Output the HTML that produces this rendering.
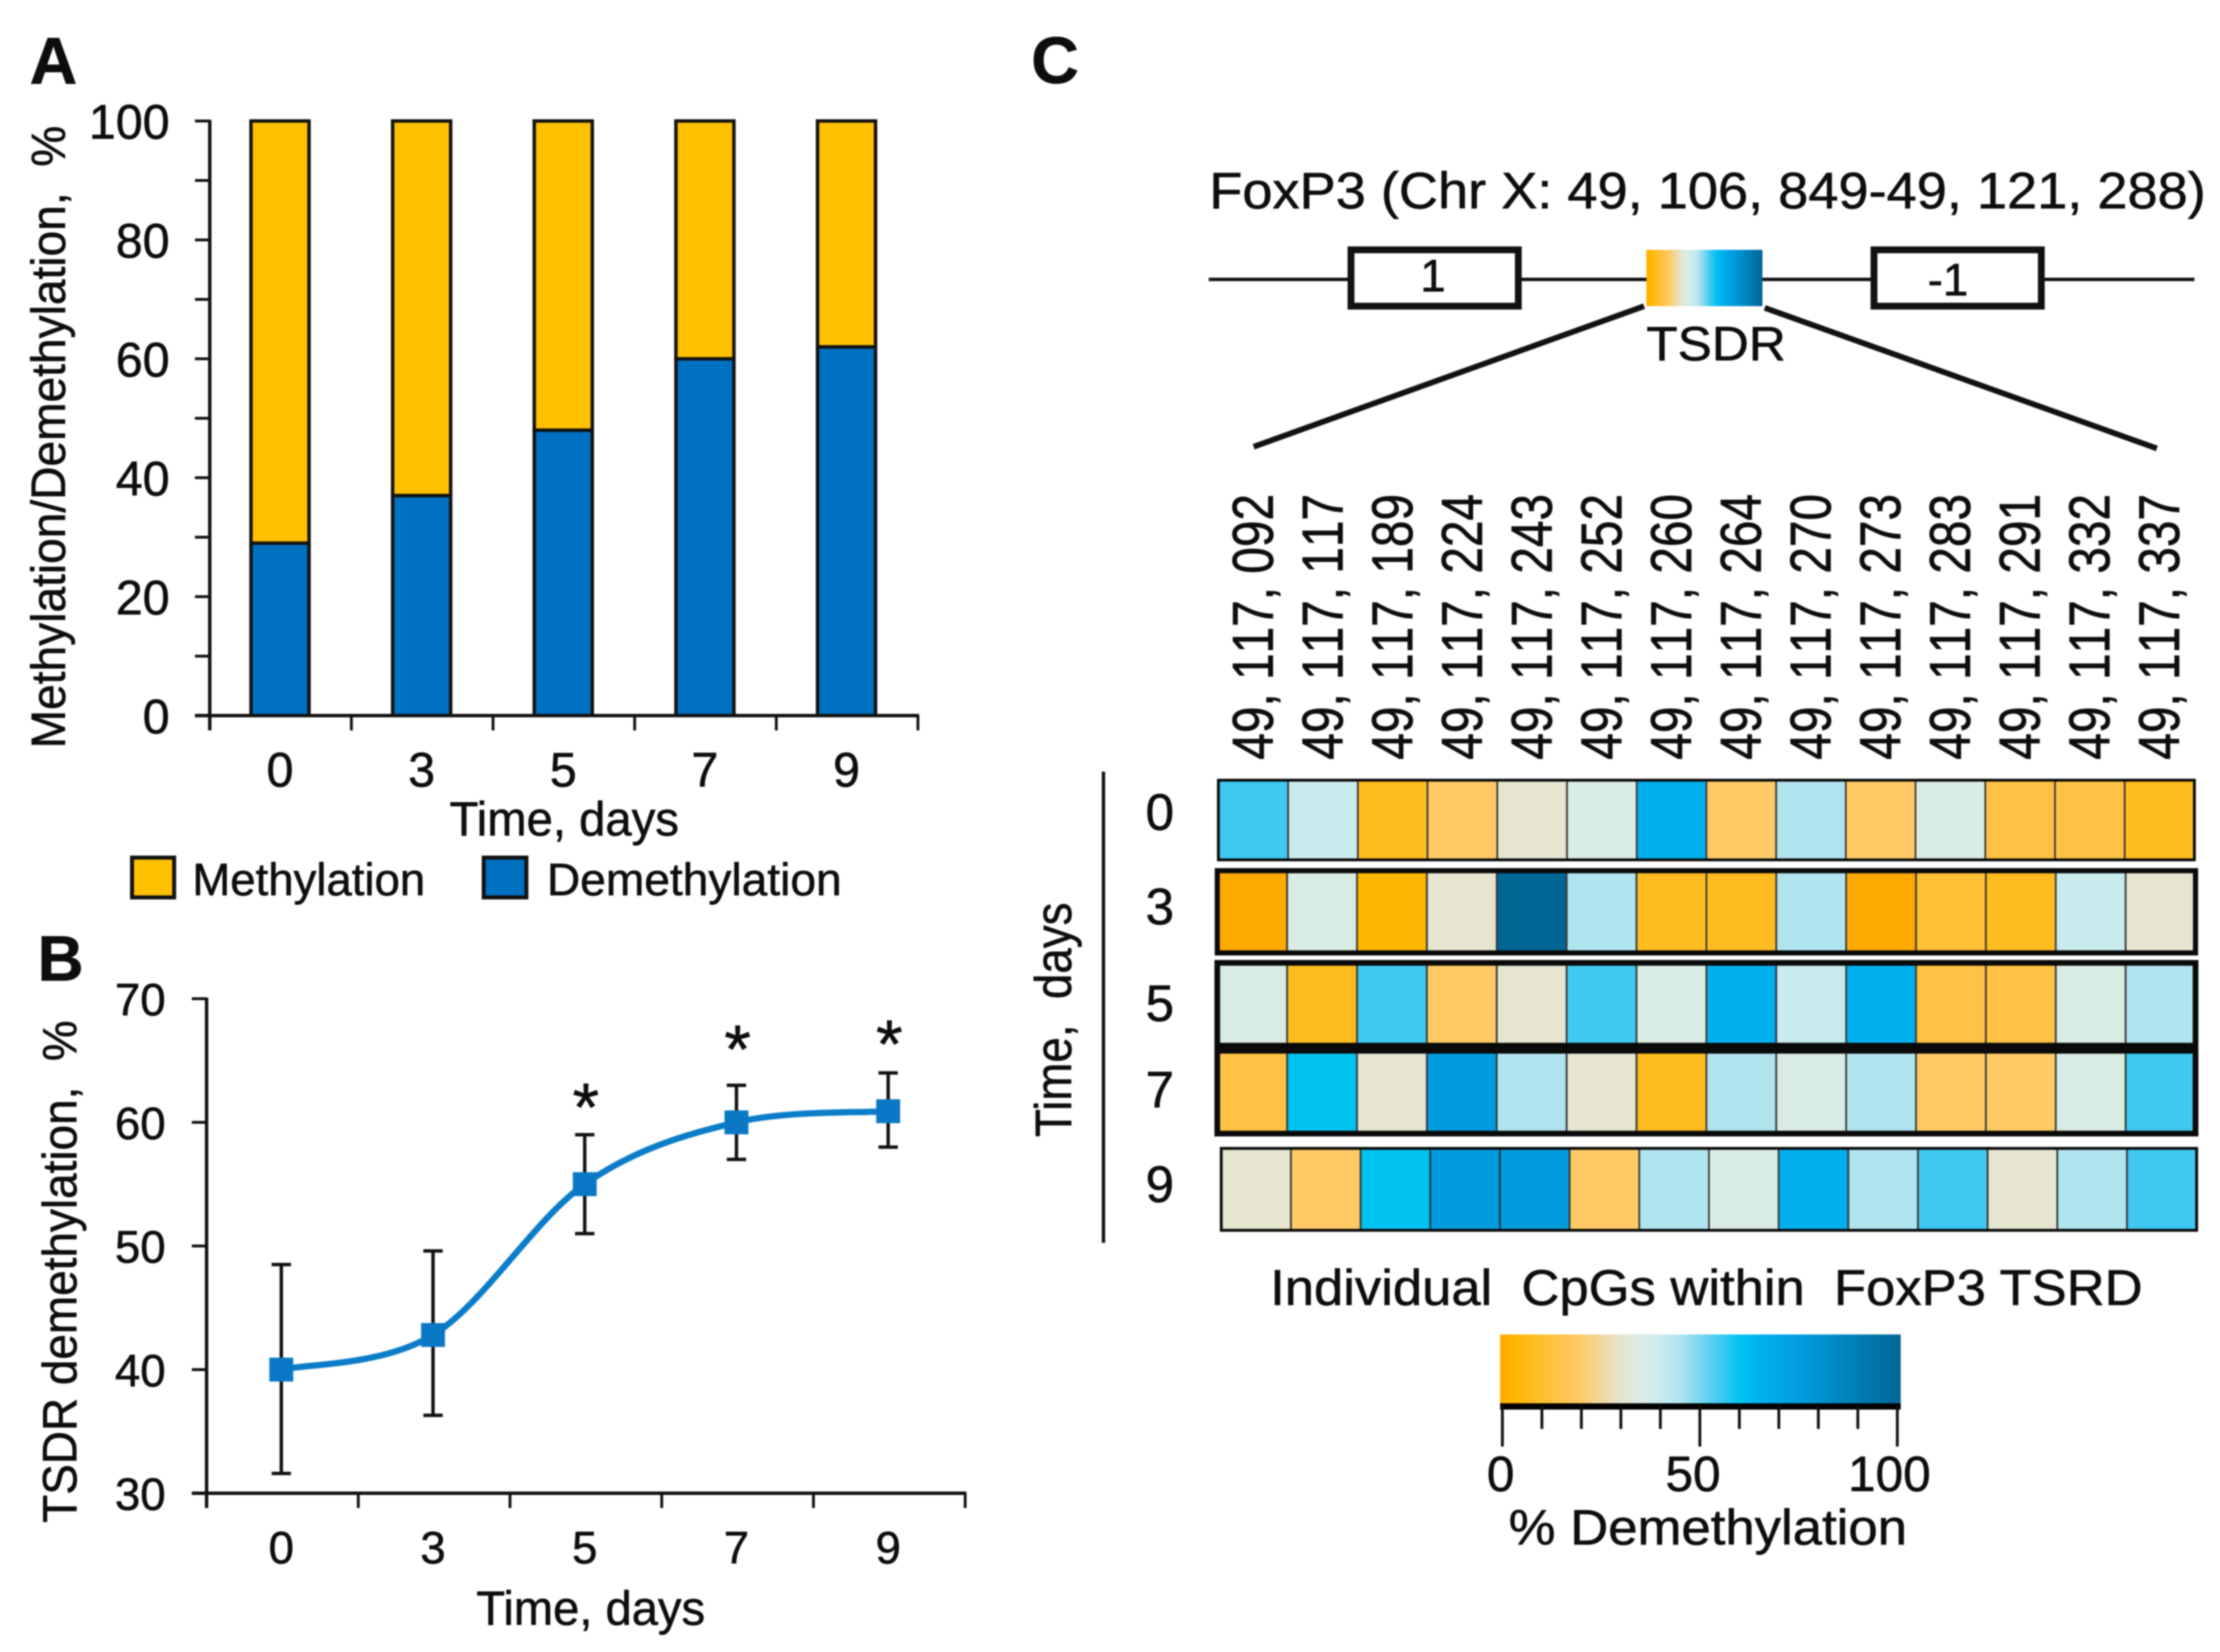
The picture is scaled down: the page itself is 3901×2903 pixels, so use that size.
<!DOCTYPE html>
<html lang="en">
<head>
<meta charset="utf-8">
<title>FoxP3 TSDR demethylation</title>
<style>
  html, body { margin: 0; padding: 0; background: #fff; }
  svg { display: block; filter: blur(1.2px); }
  text { font-family: "Liberation Sans", sans-serif; fill: #0d0d0d; stroke: #0d0d0d; stroke-width: 1px; }
</style>
</head>
<body>
<svg id="fig" xmlns="http://www.w3.org/2000/svg" width="3901" height="2903" viewBox="0 0 3901 2903">
  <defs>
    <linearGradient id="demethGradient" x1="0" y1="0" x2="1" y2="0"></linearGradient>
  </defs>
  <rect x="0" y="0" width="3901" height="2903" fill="#fff"/>

  <!-- Panel letters -->
  <text x="52" y="147" font-size="116" font-weight="bold">A</text>
  <text x="66" y="1723" font-size="112" font-weight="bold">B</text>
  <text x="1812" y="146" font-size="116" font-weight="bold">C</text>

  <!-- Panel A titles and legend -->
  <text transform="translate(114,1315) rotate(-90)" font-size="84" textLength="1094" lengthAdjust="spacingAndGlyphs">Methylation/Demethylation,&#160;&#160;%</text>
  <text x="790" y="1468" font-size="84" textLength="403" lengthAdjust="spacingAndGlyphs">Time, days</text>
  <rect x="232" y="1507" width="74" height="70" fill="#FFC000" stroke="#111" stroke-width="7"/>
  <text x="338" y="1573" font-size="80">Methylation</text>
  <rect x="850" y="1507" width="75" height="70" fill="#0070C0" stroke="#111" stroke-width="7"/>
  <text x="961" y="1573" font-size="80" textLength="518" lengthAdjust="spacingAndGlyphs">Demethylation</text>

  <!-- Panel B titles -->
  <text transform="translate(134,2676) rotate(-90)" font-size="84" textLength="883" lengthAdjust="spacingAndGlyphs">TSDR demethylation,&#160;&#160;%</text>
  <text x="837" y="2855" font-size="84" textLength="402" lengthAdjust="spacingAndGlyphs">Time, days</text>

  <!-- Panel C gene diagram -->
  <text x="2125" y="366" font-size="90" textLength="1751" lengthAdjust="spacingAndGlyphs">FoxP3 (Chr X: 49, 106, 849-49, 121, 288)</text>
  <line x1="2124" y1="491" x2="3856" y2="491" stroke="#111" stroke-width="6"/>
  <rect x="2374" y="439" width="294" height="99" fill="#fff" stroke="#111" stroke-width="12"/>
  <rect x="3293" y="439" width="294" height="99" fill="#fff" stroke="#111" stroke-width="12"/>
  <text x="2518" y="512" font-size="80" text-anchor="middle">1</text>
  <text x="3423" y="519" font-size="80" text-anchor="middle">-1</text>
  <rect x="2893" y="439" width="204" height="99" fill="url(#demethGradient)"/>
  <text x="2893" y="633" font-size="84" textLength="245" lengthAdjust="spacingAndGlyphs">TSDR</text>
  <line x1="2889" y1="538" x2="2203" y2="785" stroke="#111" stroke-width="10"/>
  <line x1="3101" y1="541" x2="3790" y2="788" stroke="#111" stroke-width="10"/>

  <!-- Panel C heatmap furniture -->
  <line x1="1939" y1="1356" x2="1939" y2="2184" stroke="#111" stroke-width="6"/>
  <text transform="translate(1882,1998) rotate(-90)" font-size="90" textLength="412" lengthAdjust="spacingAndGlyphs">Time,&#160;&#160;days</text>
  <text x="2232" y="2293" font-size="88" textLength="1533" lengthAdjust="spacingAndGlyphs">Individual&#160;&#160;CpGs within&#160;&#160;FoxP3 TSRD</text>
  <rect x="2636" y="2345" width="704" height="122" fill="url(#demethGradient)"/>
  <rect x="2636" y="2466" width="704" height="11" fill="#000"/>
  <text x="2651" y="2714" font-size="87" textLength="700" lengthAdjust="spacingAndGlyphs">% Demethylation</text>
</svg>

<script>
// ---------- Panel A data ----------
const barDays = ['0', '3', '5', '7', '9'];
const demethylationShare = [29, 37, 48, 60, 62];
const methylationShare = [71, 63, 52, 40, 38];
const barTickLabels = [0, 20, 40, 60, 80, 100];

// ---------- Panel B data ----------
const lineDays = ['0', '3', '5', '7', '9'];
const tsdrMean = [40, 42.8, 55, 60, 60.9];
const tsdrUpper = [48.5, 49.6, 59, 63, 64];
const tsdrLower = [31.6, 36.3, 51, 57, 58];
const asteriskLevel = [null, null, 61.9, 66.6, 67];
const lineTickLabels = [30, 40, 50, 60, 70];

// ---------- Panel C data ----------
const cpgPositions = ['092', '117', '189', '224', '243', '252', '260', '264', '270', '273', '283', '291', '332', '337'];
const heatDays = ['0', '3', '5', '7', '9'];
const heatDay0 = [55, 40, 8, 20, 30, 35, 65, 20, 45, 20, 35, 14, 14, 8];
const heatDay3 = [0, 35, 4, 30, 100, 45, 8, 8, 45, 0, 12, 8, 40, 30];
const heatDay5 = [35, 8, 55, 20, 30, 55, 35, 65, 40, 65, 14, 14, 35, 45];
const heatDay7 = [14, 60, 30, 75, 45, 30, 8, 45, 35, 45, 20, 20, 35, 55];
const heatDay9 = [30, 20, 60, 75, 75, 20, 45, 35, 65, 45, 55, 30, 45, 55];
const colorValues = [0, 4, 8, 14, 20, 30, 35, 40, 45, 55, 60, 65, 75, 100];
const colorHexes = ['#FFAA00', '#FFB600', '#FFBC20', '#FFC244', '#FFCA66', '#E5E5D0', '#D9ECE4', '#C8EBEE', '#B0E4EF', '#3FC9F0', '#00C3F0', '#00B0EE', '#009CDE', '#006695'];
const colorbarLabels = [0, 50, 100];

// ---------- helpers ----------
const NS = 'http://www.w3.org/2000/svg';
const fig = document.getElementById('fig');

function mark(tag, attrs, name) {
  const el = document.createElementNS(NS, tag);
  for (const k in attrs) el.setAttribute(k, attrs[k]);
  
  
  fig.appendChild(el);
  return el;
}
function seg(x1, y1, x2, y2, w, name) {
  return mark('line', { x1, y1, x2, y2, stroke: '#111', 'stroke-width': w }, name);
}
function label(x, y, str, size, anchor, name) {
  const el = mark('text', { x, y, 'font-size': size, 'text-anchor': anchor }, name);
  el.textContent = str;
  return el;
}
function hexToRgb(h) {
  return [parseInt(h.slice(1, 3), 16), parseInt(h.slice(3, 5), 16), parseInt(h.slice(5, 7), 16)];
}
function colorOf(v) {
  if (v <= colorValues[0]) return colorHexes[0];
  for (let i = 1; i < colorValues.length; i++) {
    if (v <= colorValues[i]) {
      const t = (v - colorValues[i - 1]) / (colorValues[i] - colorValues[i - 1]);
      const a = hexToRgb(colorHexes[i - 1]);
      const b = hexToRgb(colorHexes[i]);
      const c = a.map((q, j) => Math.round(q + (b[j] - q) * t));
      return 'rgb(' + c.join(',') + ')';
    }
  }
  return colorHexes[colorHexes.length - 1];
}

// ---------- shared gradient ----------
const grad = document.getElementById('demethGradient');
colorValues.forEach((v, i) => {
  const s = document.createElementNS(NS, 'stop');
  s.setAttribute('offset', (v / 100));
  s.setAttribute('stop-color', colorHexes[i]);
  grad.appendChild(s);
});

// ---------- Panel A ----------
const aLeft = 368.6, aRight = 1613, aTop = 212.6, aBottom = 1257.5;
const aBand = (aRight - aLeft) / barDays.length;
const aX = i => aLeft + aBand * (i + 0.5) - 1;
const aY = v => aBottom - (v / 100) * (aBottom - aTop);
const barW = 102;

barDays.forEach((d, i) => {
  const m0 = demethylationShare[i];
  const m1 = m0 + methylationShare[i];
  mark('rect', { x: aX(i) - barW / 2, y: aY(m1), width: barW, height: aY(m0) - aY(m1), fill: '#FFC000', stroke: '#111', 'stroke-width': 6 }, 'bar-methylation-day-' + d);
  mark('rect', { x: aX(i) - barW / 2, y: aY(m0), width: barW, height: aY(0) - aY(m0), fill: '#0070C0', stroke: '#111', 'stroke-width': 6 }, 'bar-demethylation-day-' + d);
  label(aX(i), 1382, d, 85, 'middle', 'panel-a-x-tick-label-' + d);
});
seg(aLeft, aTop - 2, aLeft, aBottom + 26, 6, 'panel-a-y-axis');
seg(aLeft - 26, aBottom, aRight + 2, aBottom, 6, 'panel-a-x-axis');
for (let v = 0; v <= 100; v += 10) {
  seg(aLeft - 26, aY(v), aLeft, aY(v), 5, 'panel-a-y-tick');
}
for (let i = 0; i <= barDays.length; i++) {
  seg(aLeft + aBand * i, aBottom, aLeft + aBand * i, aBottom + 26, 5, 'panel-a-x-tick');
}
barTickLabels.forEach(v => {
  label(298, aY(v) + 31, String(v), 85, 'end', 'panel-a-y-tick-label-' + v);
});

// ---------- Panel B ----------
const bLeft = 363, bRight = 1696, bTop = 1755, bBottom = 2624;
const bBand = (bRight - bLeft) / lineDays.length;
const bX = i => bLeft + bBand * (i + 0.5) - 2;
const bY = v => bBottom - ((v - 30) / 40) * (bBottom - bTop);

seg(bLeft, bTop - 2, bLeft, bBottom + 26, 6, 'panel-b-y-axis');
seg(bLeft - 26, bBottom, bRight + 2, bBottom, 6, 'panel-b-x-axis');
lineTickLabels.forEach(v => {
  seg(bLeft - 26, bY(v), bLeft, bY(v), 5, 'panel-b-y-tick');
  label(291, bY(v) + 29, String(v), 80, 'end', 'panel-b-y-tick-label-' + v);
});
for (let i = 0; i <= lineDays.length; i++) {
  seg(bLeft + bBand * i, bBottom, bLeft + bBand * i, bBottom + 26, 5, 'panel-b-x-tick');
}
lineDays.forEach((d, i) => {
  label(bX(i), 2747, d, 80, 'middle', 'panel-b-x-tick-label-' + d);
  seg(bX(i), bY(tsdrUpper[i]), bX(i), bY(tsdrLower[i]), 6, 'error-bar-day-' + d);
  seg(bX(i) - 17, bY(tsdrUpper[i]), bX(i) + 17, bY(tsdrUpper[i]), 6, 'error-cap-upper-day-' + d);
  seg(bX(i) - 17, bY(tsdrLower[i]), bX(i) + 17, bY(tsdrLower[i]), 6, 'error-cap-lower-day-' + d);
});
const pts = tsdrMean.map((v, i) => [bX(i), bY(v)]);
let pathD = 'M' + pts[0][0] + ' ' + pts[0][1];
for (let i = 0; i < pts.length - 1; i++) {
  const p0 = pts[Math.max(i - 1, 0)], p1 = pts[i], p2 = pts[i + 1], p3 = pts[Math.min(i + 2, pts.length - 1)];
  const c1x = p1[0] + (p2[0] - p0[0]) / 6, c1y = p1[1] + (p2[1] - p0[1]) / 6;
  const c2x = p2[0] - (p3[0] - p1[0]) / 6, c2y = p2[1] - (p3[1] - p1[1]) / 6;
  pathD += ' C' + c1x + ' ' + c1y + ' ' + c2x + ' ' + c2y + ' ' + p2[0] + ' ' + p2[1];
}
mark('path', { d: pathD, fill: 'none', stroke: '#0A7CC8', 'stroke-width': 11 }, 'tsdr-demethylation-line');
lineDays.forEach((d, i) => {
  mark('rect', { x: bX(i) - 21, y: bY(tsdrMean[i]) - 21, width: 42, height: 42, fill: '#0A78C4' }, 'tsdr-point-day-' + d);
  if (asteriskLevel[i] !== null) {
    const star = label(bX(i) + 2, bY(asteriskLevel[i]) + 56, '*', 120, 'middle', 'significance-asterisk-day-' + d);
    star.setAttribute('stroke-width', '3');
  }
});

// ---------- Panel C: CpG labels ----------
const heatLeft = 2141, cellW = (3856 - 2141) / cpgPositions.length;
const cellCenter = i => heatLeft + cellW * (i + 0.5);
cpgPositions.forEach((p, i) => {
  const el = mark('text', { transform: 'translate(' + (cellCenter(i) + 34) + ',1335) rotate(-90) scale(1,1.2)', 'font-size': 84, style: 'font-kerning:none' }, 'cpg-label-' + p);
  el.textContent = '49, 117, ' + p;
});

// ---------- Panel C: heatmap rows ----------
function drawRow(values, day, x0, x1, yTop, yBottom, frameW, cellBorder) {
  const w = (x1 - x0) / values.length;
  values.forEach((v, i) => {
    mark('rect', { x: x0 + w * i, y: yTop, width: w, height: yBottom - yTop, fill: colorOf(v), stroke: '#333', 'stroke-width': cellBorder }, 'heat-cell-day-' + day + '-cpg-' + cpgPositions[i]);
  });
  mark('rect', { x: x0, y: yTop, width: x1 - x0, height: yBottom - yTop, fill: 'none', stroke: '#0a0a0a', 'stroke-width': frameW }, 'heat-row-frame-day-' + day);
}
drawRow(heatDay0, heatDays[0], 2141, 3856, 1371, 1511, 5, 3);
drawRow(heatDay3, heatDays[1], 2139, 3858, 1530, 1674.5, 9, 3);
drawRow(heatDay5, heatDays[2], 2139, 3858, 1692, 1837.5, 10, 3);
drawRow(heatDay7, heatDays[3], 2139, 3858, 1846.5, 1992, 10, 3);
drawRow(heatDay9, heatDays[4], 2146, 3860, 2018, 2162, 5, 3);

label(2038, 1458, heatDays[0], 90, 'middle', 'heat-row-label-0');
label(2038, 1624, heatDays[1], 90, 'middle', 'heat-row-label-3');
label(2038, 1794, heatDays[2], 90, 'middle', 'heat-row-label-5');
label(2038, 1946, heatDays[3], 90, 'middle', 'heat-row-label-7');
label(2038, 2112, heatDays[4], 90, 'middle', 'heat-row-label-9');

// ---------- Panel C: colour bar ticks ----------
const cbX = v => 2640 + (v / 100) * (3334 - 2640);
for (let v = 0; v <= 100; v += 10) {
  const major = v % 50 === 0;
  seg(cbX(v), 2470, cbX(v), major ? 2542 : 2511, 5, 'colorbar-tick');
}
label(cbX(colorbarLabels[0]) - 3, 2620, String(colorbarLabels[0]), 87, 'middle', 'colorbar-label-0');
label(cbX(colorbarLabels[1]) - 12, 2620, String(colorbarLabels[1]), 87, 'middle', 'colorbar-label-50');
label(cbX(colorbarLabels[2]) - 14, 2620, String(colorbarLabels[2]), 87, 'middle', 'colorbar-label-100');
</script>
</body>
</html>
